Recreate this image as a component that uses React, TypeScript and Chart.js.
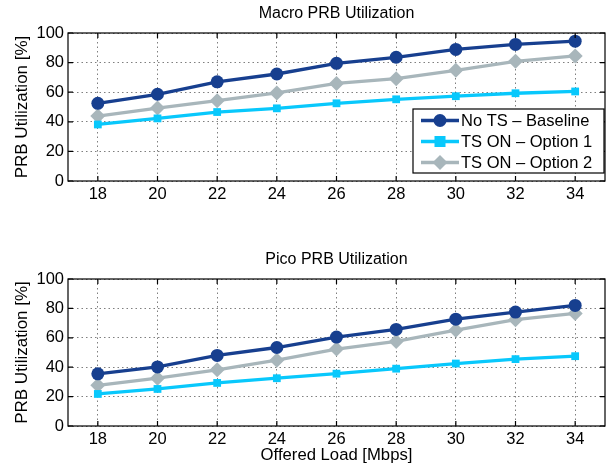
import React, { useEffect, useRef } from "react";
import { Chart, registerables } from "chart.js";

Chart.register(...registerables);

// ---- data ----
const loads = [18, 20, 22, 24, 26, 28, 30, 32, 34];
const yTickValues = [0, 20, 40, 60, 80, 100];
const seriesNames = ["No TS \u2013 Baseline", "TS ON \u2013 Option 1", "TS ON \u2013 Option 2"];

const macroBaseline = [52.5, 58.6, 67.0, 72.3, 79.5, 83.6, 88.9, 92.3, 94.5];
const macroOption1 = [38.2, 42.3, 46.6, 49.1, 52.5, 55.2, 57.3, 59.3, 60.5];
const macroOption2 = [43.9, 49.3, 54.3, 59.5, 65.9, 69.1, 74.8, 80.9, 84.5];

const picoBaseline = [35.5, 40.2, 48.0, 53.4, 60.5, 65.7, 72.7, 77.5, 82.0];
const picoOption1 = [21.8, 25.2, 29.3, 32.5, 35.6, 39.0, 42.5, 45.5, 47.5];
const picoOption2 = [27.7, 32.5, 38.2, 44.8, 52.3, 57.5, 65.2, 72.3, 76.6];

// ---- styles ----
const seriesColors = ["#173f8f", "#08c8fc", "#a8b6bb"];
const seriesMarkers = ["circle", "rect", "rectRot"];
const seriesRadius = [6.5, 5.5, 7.5];
const FONT = "'Liberation Sans', Arial, Helvetica, sans-serif";

const frame = {
  id: "frame",
  afterDatasetsDraw(chart: any) {
    const { ctx, chartArea: a, scales } = chart;
    ctx.save();
    ctx.setLineDash([]);
    ctx.strokeStyle = "#000";
    ctx.lineWidth = 1.2;
    ctx.strokeRect(a.left, a.top, a.right - a.left, a.bottom - a.top);
    ctx.beginPath();
    scales.x.ticks.forEach((t: any) => {
      const px = scales.x.getPixelForValue(t.value);
      ctx.moveTo(px, a.bottom);
      ctx.lineTo(px, a.bottom - 5);
      ctx.moveTo(px, a.top);
      ctx.lineTo(px, a.top + 5);
    });
    scales.y.ticks.forEach((t: any) => {
      const py = scales.y.getPixelForValue(t.value);
      ctx.moveTo(a.left, py);
      ctx.lineTo(a.left + 5, py);
      ctx.moveTo(a.right, py);
      ctx.lineTo(a.right - 5, py);
    });
    ctx.stroke();
    ctx.restore();
  },
};

const insetLegend = {
  id: "insetLegend",
  afterDraw(chart: any) {
    const opts = chart.options.plugins.insetLegend;
    if (!opts || !opts.show) return;
    const { ctx, chartArea: a } = chart;
    const w = 191;
    const h = 64;
    const right = a.right - 1;
    const bottom = a.bottom - 8;
    const left = right - w;
    const top = bottom - h;
    ctx.save();
    ctx.setLineDash([]);
    ctx.fillStyle = "#fff";
    ctx.fillRect(left, top, w, h);
    ctx.strokeStyle = "#000";
    ctx.lineWidth = 1.2;
    ctx.strokeRect(left, top, w, h);
    chart.data.datasets.forEach((ds: any, i: number) => {
      const y = top + 11.5 + i * 21;
      ctx.strokeStyle = ds.borderColor;
      ctx.lineWidth = ds.borderWidth;
      ctx.beginPath();
      ctx.moveTo(left + 8, y);
      ctx.lineTo(left + 46, y);
      ctx.stroke();
      ctx.fillStyle = ds.pointBackgroundColor;
      const r = ds.pointRadius;
      if (ds.pointStyle === "circle") {
        ctx.beginPath();
        ctx.arc(left + 27, y, r, 0, Math.PI * 2);
        ctx.fill();
      } else if (ds.pointStyle === "rect") {
        ctx.fillRect(left + 27 - r, y - r, 2 * r, 2 * r);
      } else {
        ctx.beginPath();
        ctx.moveTo(left + 27, y - r);
        ctx.lineTo(left + 27 + r, y);
        ctx.lineTo(left + 27, y + r);
        ctx.lineTo(left + 27 - r, y);
        ctx.closePath();
        ctx.fill();
      }
      ctx.fillStyle = "#000";
      ctx.font = `16.5px ${FONT}`;
      ctx.textBaseline = "middle";
      ctx.textAlign = "left";
      ctx.fillText(seriesNames[i], left + 48, y + 1);
    });
    ctx.restore();
  },
};

function makeConfig(
  title: string,
  series: number[][],
  showXTitle: boolean,
  showLegend: boolean,
  titlePad: { top: number; bottom: number },
  xHeight: number,
  xTickPad: number
): any {
  return {
    type: "line",
    data: {
      datasets: series.map((vals, i) => ({
        label: seriesNames[i],
        data: loads.map((x, j) => ({ x, y: vals[j] })),
        borderColor: seriesColors[i],
        backgroundColor: seriesColors[i],
        pointBackgroundColor: seriesColors[i],
        pointBorderColor: seriesColors[i],
        pointBorderWidth: 0,
        pointStyle: seriesMarkers[i],
        pointRadius: seriesRadius[i],
        borderWidth: 3.3,
        fill: false,
        tension: 0,
        clip: false,
      })),
    },
    options: {
      responsive: false,
      animation: false,
      events: [],
      layout: { padding: { left: 0, right: 8, top: 0, bottom: 0 } },
      plugins: {
        legend: { display: false },
        tooltip: { enabled: false },
        title: {
          display: true,
          fullSize: false,
          text: title,
          color: "#000",
          font: { family: FONT, size: 16, weight: "normal", lineHeight: 1.2 },
          padding: titlePad,
        },
        insetLegend: { show: showLegend },
      },
      scales: {
        x: {
          type: "linear",
          min: 17,
          max: 35,
          afterBuildTicks: (scale: any) => {
            scale.ticks = loads.map((v) => ({ value: v }));
          },
          afterFit: (scale: any) => {
            scale.height = xHeight;
          },
          ticks: {
            color: "#000",
            font: { family: FONT, size: 16.5, lineHeight: 1.2 },
            padding: xTickPad,
            maxRotation: 0,
            autoSkip: false,
          },
          grid: { color: "rgba(0,0,0,0.5)", lineWidth: 1, drawTicks: false },
          border: { display: false, dash: [1.5, 3] },
          title: {
            display: showXTitle,
            text: "Offered Load [Mbps]",
            color: "#000",
            font: { family: FONT, size: 16.7, lineHeight: 1.2 },
            padding: { top: 0, bottom: 5 },
          },
        },
        y: {
          type: "linear",
          min: 0,
          max: 100,
          afterBuildTicks: (scale: any) => {
            scale.ticks = yTickValues.map((v) => ({ value: v }));
          },
          afterFit: (scale: any) => {
            scale.width = 68;
          },
          ticks: {
            color: "#000",
            font: { family: FONT, size: 16.5, lineHeight: 1.2 },
            padding: 4,
          },
          grid: { color: "rgba(0,0,0,0.5)", lineWidth: 1, drawTicks: false },
          border: { display: false, dash: [1.5, 3] },
          title: {
            display: true,
            text: "PRB Utilization [%]",
            color: "#000",
            font: { family: FONT, size: 17, lineHeight: 1.2 },
            padding: { top: 12.5, bottom: 0 },
          },
        },
      },
    },
    plugins: [frame, insetLegend],
  };
}

function Panel(props: { config: any; top: number; height: number }) {
  const ref = useRef<HTMLCanvasElement | null>(null);
  useEffect(() => {
    if (!ref.current) return;
    const chart = new Chart(ref.current, props.config);
    return () => chart.destroy();
  }, []);
  return (
    <div style={{ position: "absolute", left: 0, top: props.top, width: 613, height: props.height }}>
      <canvas ref={ref} width={613} height={props.height} style={{ width: 613, height: props.height, display: "block" }} />
    </div>
  );
}

export default function App() {
  const macroCfg = makeConfig(
    "Macro PRB Utilization",
    [macroBaseline, macroOption1, macroOption2],
    false,
    true,
    { top: 4, bottom: 9.8 },
    54,
    3.5
  );
  const picoCfg = makeConfig(
    "Pico PRB Utilization",
    [picoBaseline, picoOption1, picoOption2],
    true,
    false,
    { top: 15.4, bottom: 9.4 },
    44,
    3.5
  );
  return (
    <div style={{ position: "absolute", left: 0, top: 0, width: 613, height: 470, background: "#fff" }}>
      <Panel config={macroCfg} top={0} height={235} />
      <Panel config={picoCfg} top={235} height={235} />
    </div>
  );
}
